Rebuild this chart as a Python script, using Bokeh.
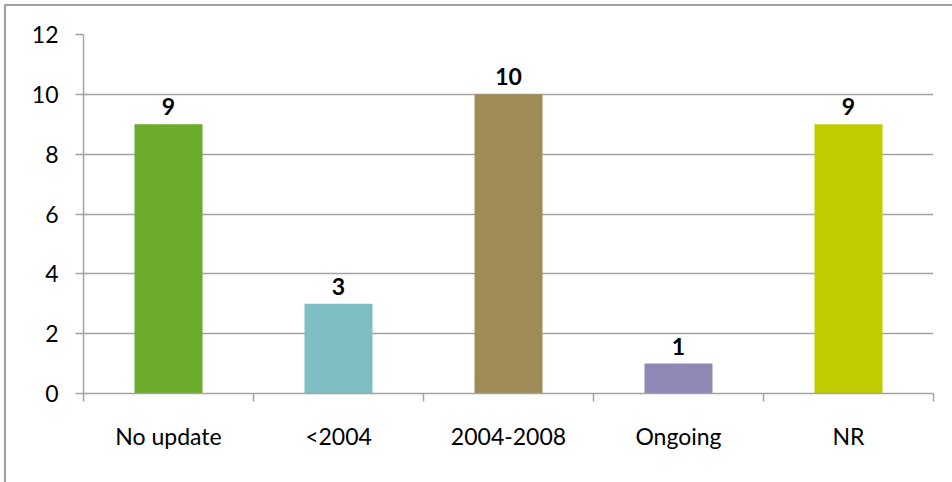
from bokeh.plotting import figure
from bokeh.models import FixedTicker, Range1d, ColumnDataSource, InlineStyleSheet
from bokeh.core.properties import value
from bokeh.embed import file_html
from bokeh.resources import INLINE
import numpy as np

# Chart data
categories = ["No update", "<2004", "2004-2008", "Ongoing", "NR"]
counts = [9, 3, 10, 1, 9]
bar_colors = ["#6aab2a", "#7fbfc3", "#9f8b57", "#8f87b5", "#bfcd00"]
y_ticks = [0, 2, 4, 6, 8, 10, 12]

FONT = "Lato"
GRID = "#a3a3a3"

centers = np.arange(len(categories)) + 0.5
source = ColumnDataSource(dict(
    x=centers,
    top=counts,
    color=bar_colors,
    label=[str(v) for v in counts],
))

p = figure(
    width=952, height=482,
    x_range=Range1d(0, len(categories)),
    y_range=Range1d(0, 12),
    output_backend="svg",
    toolbar_location=None,
    min_border_left=83, min_border_right=19,
    min_border_top=34, min_border_bottom=89,
)
p.outline_line_color = None
p.background_fill_color = "white"
p.border_fill_color = "white"

# bars
p.vbar(x="x", top="top", width=0.4, bottom=0, color="color", line_color=None, source=source)

# value labels above bars
p.text(x="x", y="top", text="label", source=source,
       text_align="center", text_baseline="bottom", y_offset=-9,
       text_font=value(FONT), text_font_size="23px", text_font_style="bold",
       text_color="black")

# y axis
p.yaxis.ticker = FixedTicker(ticks=y_ticks)
p.yaxis.axis_line_color = GRID
p.yaxis.axis_line_width = 1.5
p.yaxis.major_tick_line_color = GRID
p.yaxis.major_tick_line_width = 1.5
p.yaxis.major_tick_out = 8
p.yaxis.major_tick_in = 0
p.yaxis.minor_tick_line_color = None
p.yaxis.major_label_text_font = FONT
p.yaxis.major_label_text_font_size = "23px"
p.yaxis.major_label_text_color = "black"
p.yaxis.major_label_standoff = 17

# x axis: labels at category centres, tick marks at category boundaries
p.xaxis.ticker = FixedTicker(ticks=list(centers),
                             minor_ticks=list(range(len(categories) + 1)))
p.xaxis.major_label_overrides = {float(c): name for c, name in zip(centers, categories)}
p.xaxis.axis_line_color = GRID
p.xaxis.axis_line_width = 1.5
p.xaxis.major_tick_line_color = None
p.xaxis.major_tick_out = 0
p.xaxis.major_tick_in = 0
p.xaxis.minor_tick_line_color = GRID
p.xaxis.minor_tick_line_width = 1.5
p.xaxis.minor_tick_out = 8
p.xaxis.minor_tick_in = 0
p.xaxis.major_label_text_font = FONT
p.xaxis.major_label_text_font_size = "23px"
p.xaxis.major_label_text_color = "black"
p.xaxis.major_label_standoff = 20

# grid
p.xgrid.grid_line_color = None
p.ygrid.ticker = FixedTicker(ticks=y_ticks)
p.ygrid.grid_line_color = GRID
p.ygrid.grid_line_width = 1.5

# chart-area border along the left and top edges
p.stylesheets = [InlineStyleSheet(css="""
:host { position: relative; }
:host::after {
  content: '';
  position: absolute;
  left: 4px; top: 4px; right: 0; bottom: 0;
  border-left: 2px solid #a0a0a0;
  border-top: 2px solid #a0a0a0;
  pointer-events: none;
}
""")]

open("out.html", "w").write(file_html(p, INLINE))
